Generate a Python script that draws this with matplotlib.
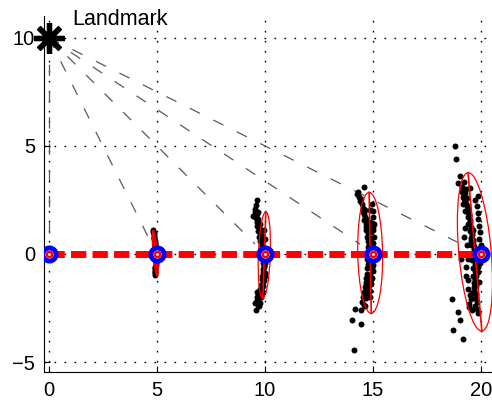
import matplotlib
matplotlib.use('Agg')
import matplotlib.pyplot as plt
from matplotlib.patches import Ellipse
import numpy as np

plt.rcParams['font.family'] = ['Liberation Sans', 'DejaVu Sans']

# robot poses along the path
pose_x = [0, 5, 10, 15, 20]
pose_y = [0, 0, 0, 0, 0]

# landmark
lm_x, lm_y = 0, 10
lm_label = 'Landmark'

# where the landmark rays end (measured positions)
meas_x = [0.0, 4.80, 9.54, 14.40, 18.90]
meas_y = [0.0, 0.37, 0.46, 0.46, 0.55]

# covariance ellipses: centre, full width, full height, tilt (deg)
ell_cx = [4.92, 9.97, 14.87, 19.72]
ell_cy = [0.03, -0.05, 0.05, 0.10]
ell_w = [0.20, 0.55, 1.15, 1.50]
ell_h = [2.10, 4.00, 5.60, 7.35]
ell_ang = [5, -2, 1, 5]

# particle clouds
c5_x = [4.82, 4.84, 4.86, 4.85, 4.88, 4.90, 4.89, 4.92, 4.93, 4.94, 4.95,
        4.96, 4.95, 4.97, 4.96, 4.95, 4.94, 4.93, 4.92, 4.91, 4.90, 4.89,
        4.83, 4.87, 4.91, 4.95, 4.97, 4.93, 4.90]
c5_y = [1.10, 0.98, 0.88, 0.80, 0.70, 0.60, 0.52, 0.42, 0.33, 0.22, 0.12,
        0.02, -0.08, -0.18, -0.30, -0.40, -0.50, -0.60, -0.70, -0.80, -0.90, -0.98,
        1.02, 0.75, 0.45, 0.05, -0.35, -0.65, -0.85]

c10_x = [9.61, 9.54, 9.46, 9.61, 9.58, 9.66, 9.70, 9.64, 9.75, 9.72, 9.80,
         9.77, 9.85, 9.82, 9.88, 9.86, 9.92, 9.90, 9.95, 9.93, 9.96, 9.92,
         9.95, 9.90, 9.93, 9.88, 9.85, 9.90, 9.82, 9.78, 9.85, 9.75, 9.70,
         9.68, 9.72, 9.58, 9.61, 9.66, 9.98, 10.00, 9.97, 9.99,
         9.52, 9.57, 9.63, 9.68, 9.73, 9.79, 9.84, 9.89, 9.94, 9.97, 9.98,
         9.96, 9.91, 9.87, 9.80, 9.76, 9.71, 9.65, 9.62, 9.55]
c10_y = [2.49, 2.07, 1.75, 1.84, 2.25, 1.95, 1.60, 1.50, 1.40, 1.25, 1.10,
         0.95, 0.85, 0.70, 0.55, 0.40, 0.30, 0.15, 0.05, -0.10, -0.25, -0.40,
         -0.55, -0.70, -0.85, -1.00, -1.15, -1.30, -1.45, -1.60, -1.70, -1.85, -1.95,
         -2.10, -2.20, -2.58, -2.15, -2.35, 0.70, -0.40, 1.10, -1.00,
         1.95, 1.65, 1.30, 1.05, 0.80, 0.60, 0.35, 0.10, -0.15, -0.60, -0.90,
         -1.20, -1.50, -1.80, -2.00, -2.25, -2.40, -1.75, -2.00, -2.25]

c15_x = [14.58, 14.24, 14.35, 14.40, 14.48, 14.55, 14.52, 14.60, 14.63, 14.58,
         14.68, 14.70, 14.66, 14.75, 14.72, 14.77, 14.80, 14.76, 14.80, 14.78,
         14.77, 14.74, 14.72, 14.72, 14.68, 14.70, 14.63, 14.60, 14.54, 14.50,
         14.17, 14.01, 14.43, 14.12,
         14.95, 15.00, 14.98, 15.05, 15.02, 15.06, 15.00, 15.04, 15.05, 15.02,
         15.00, 14.97, 14.92, 14.88, 14.85,
         14.85, 14.88, 14.90, 14.92, 14.90, 14.85, 14.80, 14.75, 14.62, 14.45,
         14.30, 14.45, 14.62, 14.70, 14.82, 14.86, 14.84, 14.83, 14.80, 14.78,
         14.74, 14.66, 14.58, 14.68, 14.90, 14.95, 14.98]
c15_y = [3.10, 2.76, 2.62, 2.46, 2.30, 2.15, 1.95, 1.85, 1.70, 1.55,
         1.40, 1.24, 1.10, 0.95, 0.80, 0.61, 0.45, 0.30, 0.15, -0.05,
         -0.46, -0.25, -0.65, -0.92, -1.10, -1.30, -1.52, -1.75, -1.98, -2.20,
         -2.53, -3.07, -3.22, -4.45,
         2.30, 2.00, 1.70, 1.40, 1.10, 0.80, 0.50, 0.20, -0.20, -0.50,
         -0.80, -1.10, -1.40, -1.70, -2.00,
         2.05, 1.50, 1.00, 0.55, -0.30, -0.95, -1.45, -1.90, -2.40, -2.60,
         2.88, 2.55, 2.05, 1.60, 1.25, 0.75, 0.05, -0.60, -1.20, -1.60,
         -1.85, -2.05, -2.35, -1.40, 0.35, -0.65, 1.25]

c20_x = [18.80, 18.83, 18.95, 19.02, 19.10, 19.20, 19.30, 19.25, 19.35, 19.20,
         19.30, 19.40, 19.28, 19.45, 19.38, 19.50, 19.42, 19.55, 19.48, 19.60,
         19.52, 19.62, 19.55, 19.66, 19.58, 19.07, 19.68, 19.60, 19.70, 19.62,
         19.72, 19.64, 19.74, 19.66, 19.75, 19.68, 19.78, 19.70, 19.80, 19.72,
         19.82, 19.85, 18.64, 18.94, 19.03, 18.72, 19.17, 19.45, 19.50, 19.40,
         19.30, 19.35, 19.25, 19.15, 19.22,
         19.85, 19.90, 19.95, 19.92, 20.00, 19.97, 20.02, 19.95, 19.88, 19.80,
         19.78, 19.85,
         19.12, 19.18, 19.26, 19.33, 19.38, 19.44, 19.48, 19.52, 19.57, 19.63,
         19.67, 19.71, 19.76, 19.80, 19.84, 19.74, 19.66, 19.58, 19.52, 19.45,
         19.38, 19.32, 19.42, 19.55, 19.65, 19.72, 19.88, 19.93, 19.60, 19.48]
c20_y = [4.99, 4.38, 3.30, 3.60, 3.10, 3.35, 3.00, 2.80, 2.60, 2.55,
         2.30, 2.15, 2.00, 1.85, 1.70, 1.55, 1.40, 1.25, 1.05, 0.90,
         0.75, 0.55, 0.40, 0.25, 0.05, -0.23, -0.10, -0.30, -0.45, -0.65,
         -0.80, -1.00, -1.15, -1.35, -1.50, -1.70, -1.85, -2.05, -2.20, -2.40,
         -2.55, -2.75, -2.07, -2.67, -3.07, -3.53, -3.92, -2.30, -1.90, -1.20,
         -0.60, 0.40, 1.20, 2.30, 0.80,
         1.60, 1.30, 1.00, 0.70, 0.40, 0.10, -0.20, -0.40, 1.90, 2.20,
         -1.00, -0.60,
         2.85, 2.65, 2.45, 2.20, 1.95, 1.75, 1.50, 1.15, 0.95, 0.65,
         0.35, 0.15, -0.25, -0.55, -0.85, -1.25, -1.55, -1.80, -2.10, -2.45,
         -1.60, -1.00, -0.25, 0.60, 1.10, 2.50, 2.70, -1.30, -2.60, 3.05]

xticks = [0, 5, 10, 15, 20]
yticks = [-5, 0, 5, 10]

fig = plt.figure(figsize=(4.92, 4.04), dpi=100)
ax = fig.add_axes([44 / 492, 32 / 404, 1 - 44 / 492, (372 - 16) / 404])
ax.set_xlim(-0.23, 20.51)
ax.set_ylim(-5.46, 11.01)

# dotted grid like matlab
for gx in xticks:
    ax.axvline(gx, color='k', lw=1, dashes=(1.2, 6), zorder=0)
for gy in yticks:
    ax.axhline(gy, color='k', lw=1, dashes=(1.2, 6), zorder=0)

# rays from the landmark
for mx, my in zip(meas_x, meas_y):
    ax.plot([lm_x, mx], [lm_y, my], color='0.35', lw=0.9, dashes=(9, 12), zorder=1)

# particles
for cx, cy in [(c5_x, c5_y), (c10_x, c10_y), (c15_x, c15_y), (c20_x, c20_y)]:
    ax.plot(cx, cy, 'o', color='k', ms=4.3, mew=0, zorder=2)

# ellipses + major axis
for cx, cy, w, h, a in zip(ell_cx, ell_cy, ell_w, ell_h, ell_ang):
    ax.add_patch(Ellipse((cx, cy), w, h, angle=a, fill=False, ec='red', lw=0.9, zorder=3))
    t = np.deg2rad(a)
    dx, dy = -np.sin(t) * h / 2, np.cos(t) * h / 2
    ax.plot([cx - dx, cx + dx], [cy - dy, cy + dy], color='red', lw=1.2, zorder=3)

# path
ax.plot(pose_x, pose_y, color='red', lw=5, dashes=(2.2, 0.9), zorder=4)
ax.plot(pose_x, pose_y, 'o', ms=9.5, mew=3.5, mec='blue', mfc='white', zorder=5)
ax.plot(pose_x, pose_y, 'o', ms=3.8, mew=1.8, mec='red', mfc='none', zorder=6)

# landmark
ax.plot(lm_x, lm_y, marker=(8, 2, 0), ms=22, mew=3.8, color='k', zorder=7, clip_on=False)
ax.text(1.06, 10.6, lm_label, fontsize=15.5, ha='left', va='baseline')

ax.set_xticks(xticks)
ax.set_yticks(yticks)
ax.tick_params(direction='in', length=4, labelsize=14.5, pad=6.5)
ax.spines['top'].set_visible(False)
ax.spines['right'].set_visible(False)

fig.savefig('out.png', dpi=100)
